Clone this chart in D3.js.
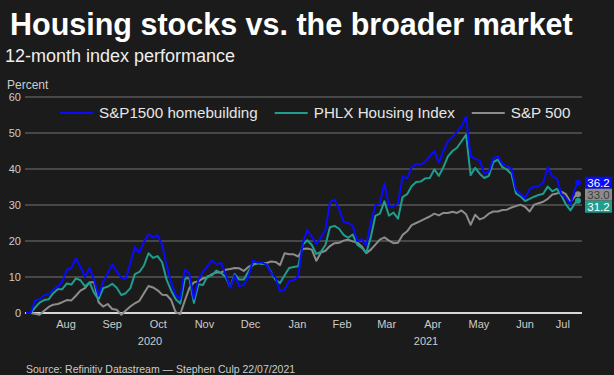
<!DOCTYPE html>
<html>
<head>
<meta charset="utf-8">
<script src="https://cdn.jsdelivr.net/npm/d3@7"></script>
<style>
  body { margin: 0; background: #1b1b1b; }
  svg { display: block; font-family: "Liberation Sans", Arial, sans-serif; }
</style>
</head>
<body>
<div id="chart-area"></div>
<script>
const W = 614, H = 375
const MARGIN = { LEFT: 26, RIGHT: 36, TOP: 97, BOTTOM: 62 }

// dates: every 3 days from 21/07/2020, last point 21/07/2021
const START = new Date(2020, 6, 21)
const END = new Date(2021, 6, 21)
const dates = d3.range(0, 364, 3).map(k => d3.timeDay.offset(START, k)).concat([END])

const homebuilding = [
  0, 0, 3.5, 3.8, 4.9, 5.2, 6.5, 7.4, 8.7, 12,
  12.5, 15.2, 12.8, 10, 12.5, 9.2, 4.8, 8.6, 11, 13.5,
  11.5, 9.8, 9.5, 13.8, 18.3, 16.8, 19.8, 21.9, 21, 21.6,
  19, 13.2, 8.5, 5, 3.9, 12, 11, 4, 9.3, 11.4,
  13, 14.6, 13.5, 13.9, 10.8, 7, 10.5, 7.4, 7.9, 10,
  14.6, 14, 14, 13.5, 11.2, 9.8, 6, 6.5, 8.8, 9.1,
  10.2, 19.4, 23, 21.2, 19.2, 21, 23, 30.8, 31.5, 29,
  25.3, 25, 24.3, 20, 20.5, 18.8, 25, 29.9, 30.4, 36,
  29.8, 29.6, 30.5, 37.9, 37.4, 40.5, 41.3, 41.3, 42, 43.6,
  45, 41.7, 45, 47.7, 48.9, 50.3, 51.9, 54.5, 43.6, 42.8,
  42.4, 38.7, 39.2, 43, 43.5, 41.5, 40.7, 40.2, 34.3, 33,
  31.9, 34.4, 35, 35.2, 36.2, 40.5, 37.9, 37.4, 33, 32,
  30.2, 34.5, 36.2
]

const phlx = [
  0, 0, 1.5, 2.9, 3.6, 3.8, 5.5, 6.6, 6.6, 8.2,
  7.9, 9.6, 9.1, 7.4, 8.5, 5.6, 3.8, 6.9, 7.3, 8.1,
  7, 5, 5.5, 6.9, 10.8, 11.4, 13.2, 16.6, 15.3, 15.8,
  14.1, 9.2, 6.2, 3.8, 2.6, 9.5, 9.7, 2.8, 8, 7.8,
  10.2, 10.5, 11.8, 11.1, 10, 7.2, 10.8, 9.3, 9.3, 11.5,
  13.5, 13.9, 13.6, 13.6, 11.4, 9.2, 8.3, 10.5, 12.5, 12.8,
  13, 19, 20.2, 18.9, 16.4, 17, 18.9, 23.8, 24.2, 23.4,
  21.7, 20.9, 21.8, 19, 18.1, 16.7, 21, 27, 27.6, 31,
  27, 27.9, 26.2, 32.2, 33, 35.2, 36.4, 36.5, 37.4, 37.5,
  39.9, 38.1, 40.5, 43.5, 45, 45.9, 47.7, 49.5, 38.3, 40.3,
  38.7, 37.5, 38.1, 41.9, 42.6, 40.5, 39.8, 38.6, 33.2, 32.4,
  31.1, 31.7, 32.3, 32.8, 33.1, 35.1, 33.8, 34.5, 32.6, 30.2,
  28.5, 30.5, 31.2
]

const sp500 = [
  0, 0, -0.2, -0.5, 0.6, 1.7, 2.3, 2.5, 3, 3.6,
  3.5, 4.8, 6.2, 6.9, 8.5, 8.6, 3, 1.8, 2.5, 1.1,
  0.9, -0.5, 0.7, 1.8, 2.7, 3.4, 5.5, 7.5, 7.1, 6.3,
  5.1, 5, 3.6, 0.2, -0.3, 3.4, 6.9, 8.5, 8.8, 9.6,
  9.9, 10.8, 11.3, 11.2, 12, 12.2, 12.5, 12.4, 11.7, 12.8,
  13.4, 13.8, 13.9, 13.9, 14.3, 14.2, 13.3, 16.6, 16.3, 16.3,
  15.7, 17.8, 17.9, 17.6, 14.5, 16.8, 17.3, 18.6, 19.4, 19.5,
  20.1, 20.4, 19.9, 19.6, 18.5, 16.6, 17.6, 19, 20.4, 21,
  20.1, 19.4, 19.5, 21.7, 22.7, 24.4, 25, 25.6, 26.2, 26.8,
  27.6, 27.1, 27.8, 27.8, 28.1, 27.8, 28.5, 27.4, 24.5, 27.3,
  26, 26.5, 27.6, 28.2, 28.2, 28.6, 28.7, 29.3, 29.7, 30.1,
  29.5, 28.2, 30.1, 30.5, 30.9, 31.7, 32.9, 33.2, 33.7, 33,
  30.8, 32.4, 33.0
]

const seriesNames = ["S&P1500 homebuilding", "PHLX Housing Index", "S&P 500"]
const seriesColors = ["#0a0aff", "#1f9e8e", "#8c8c8c"]
const yTicks = [0, 10, 20, 30, 40, 50, 60]

const series = [homebuilding, phlx, sp500].map((vals, i) => ({
  name: seriesNames[i],
  color: seriesColors[i],
  values: vals.map((v, j) => ({ date: dates[j], value: v }))
}))

const x = d3.scaleTime()
  .domain([START, END])
  .range([MARGIN.LEFT, W - MARGIN.RIGHT])

const y = d3.scaleLinear()
  .domain([0, 60])
  .range([H - MARGIN.BOTTOM, MARGIN.TOP])

const line = d3.line()
  .x(d => x(d.date))
  .y(d => y(d.value))

const svg = d3.select("#chart-area").append("svg")
  .attr("width", W)
  .attr("height", H)

svg.append("rect").attr("width", W).attr("height", H).attr("fill", "#1b1b1b")

// titles
svg.append("text")
  .attr("x", 10).attr("y", 35)
  .attr("fill", "#fff")
  .attr("font-size", 30.5)
  .attr("font-weight", "bold")
  .text("Housing stocks vs. the broader market")

svg.append("text")
  .attr("x", 5).attr("y", 62)
  .attr("fill", "#eee")
  .attr("font-size", 18)
  .text("12-month index performance")

svg.append("text")
  .attr("x", 7).attr("y", 89)
  .attr("fill", "#ccc")
  .attr("font-size", 12)
  .text("Percent")

// y grid + labels
const xLeft = MARGIN.LEFT - 1, xRight = W - MARGIN.RIGHT + 4
const yAxis = svg.append("g")
yAxis.selectAll("line")
  .data(yTicks)
  .join("line")
    .attr("x1", xLeft).attr("x2", xRight)
    .attr("y1", d => y(d)).attr("y2", d => y(d))
    .attr("stroke", d => d === 0 ? "#d6d6d6" : "#474747")
    .attr("stroke-width", 2)
yAxis.selectAll("text")
  .data(yTicks)
  .join("text")
    .attr("x", 21).attr("y", d => y(d))
    .attr("dy", "0.36em")
    .attr("text-anchor", "end")
    .attr("fill", "#ccc")
    .attr("font-size", 11)
    .text(d => d)

// month labels, centred on the visible part of each month
const months = d3.timeMonth.range(d3.timeMonth.floor(START), END)
  .map(m => {
    const a = m < START ? START : m
    const b = d3.timeMonth.offset(m, 1) > END ? END : d3.timeMonth.offset(m, 1)
    return { m, a, b }
  })
  .filter(d => d3.timeDay.count(d.a, d.b) >= 15)

svg.append("g").selectAll("text")
  .data(months)
  .join("text")
    .attr("x", d => (x(d.a) + x(d.b)) / 2)
    .attr("y", 328)
    .attr("text-anchor", "middle")
    .attr("fill", "#ccc")
    .attr("font-size", 11)
    .text(d => d3.timeFormat("%b")(d.m))

const years = [2020, 2021].map(yr => {
  const a = d3.max([START, new Date(yr, 0, 1)])
  const b = d3.min([END, new Date(yr + 1, 0, 1)])
  return { yr, a, b }
})
svg.append("g").selectAll("text")
  .data(years)
  .join("text")
    .attr("x", d => (x(d.a) + x(d.b)) / 2)
    .attr("y", 345)
    .attr("text-anchor", "middle")
    .attr("fill", "#ccc")
    .attr("font-size", 11)
    .text(d => d.yr)

// lines (S&P 500 underneath)
svg.append("g")
  .selectAll("path")
  .data(series.slice().reverse())
  .join("path")
    .attr("fill", "none")
    .attr("stroke", d => d.color)
    .attr("stroke-width", 2)
    .attr("stroke-linejoin", "round")
    .attr("d", d => line(d.values))

svg.append("g")
  .selectAll("circle")
  .data(series)
  .join("circle")
    .attr("cx", d => x(d.values[d.values.length - 1].date))
    .attr("cy", d => y(d.values[d.values.length - 1].value))
    .attr("r", 3)
    .attr("fill", d => d.color)

// end value labels, pushed apart so they don't overlap
const BOX_H = 12
const ends = series.map(s => ({ s, v: s.values[s.values.length - 1].value }))
  .sort((a, b) => b.v - a.v)
let prev = -Infinity
ends.forEach(e => {
  e.cy = Math.max(y(e.v), prev + BOX_H)
  prev = e.cy
})
const endG = svg.append("g").selectAll("g")
  .data(ends)
  .join("g")
    .attr("transform", d => `translate(585,${d.cy})`)
endG.append("rect")
  .attr("x", 0).attr("y", -BOX_H / 2)
  .attr("width", 27).attr("height", BOX_H)
  .attr("fill", d => d.s.color)
endG.append("text")
  .attr("x", 13.5).attr("dy", "0.36em")
  .attr("text-anchor", "middle")
  .attr("fill", d => d.s.name === "S&P 500" ? "#3c3c3c" : "#fff")
  .attr("font-size", 11.5)
  .text(d => d.v.toFixed(1))

// legend
const legend = svg.append("g").attr("transform", "translate(60,113)")
let lx = 0
series.forEach(s => {
  const g = legend.append("g").attr("transform", `translate(${lx},0)`)
  g.append("line")
    .attr("x1", 0).attr("x2", 33)
    .attr("stroke", s.color).attr("stroke-width", 2)
  const t = g.append("text")
    .attr("x", 39).attr("dy", "0.36em")
    .attr("fill", "#e6e6e6")
    .attr("font-size", 15.2)
    .text(s.name)
  lx += 39 + t.node().getComputedTextLength() + 17
})

svg.append("text")
  .attr("x", 26).attr("y", 373)
  .attr("fill", "#ccc")
  .attr("font-size", 10.5)
  .text("Source: Refinitiv Datastream — Stephen Culp 22/07/2021")
</script>
</body>
</html>
